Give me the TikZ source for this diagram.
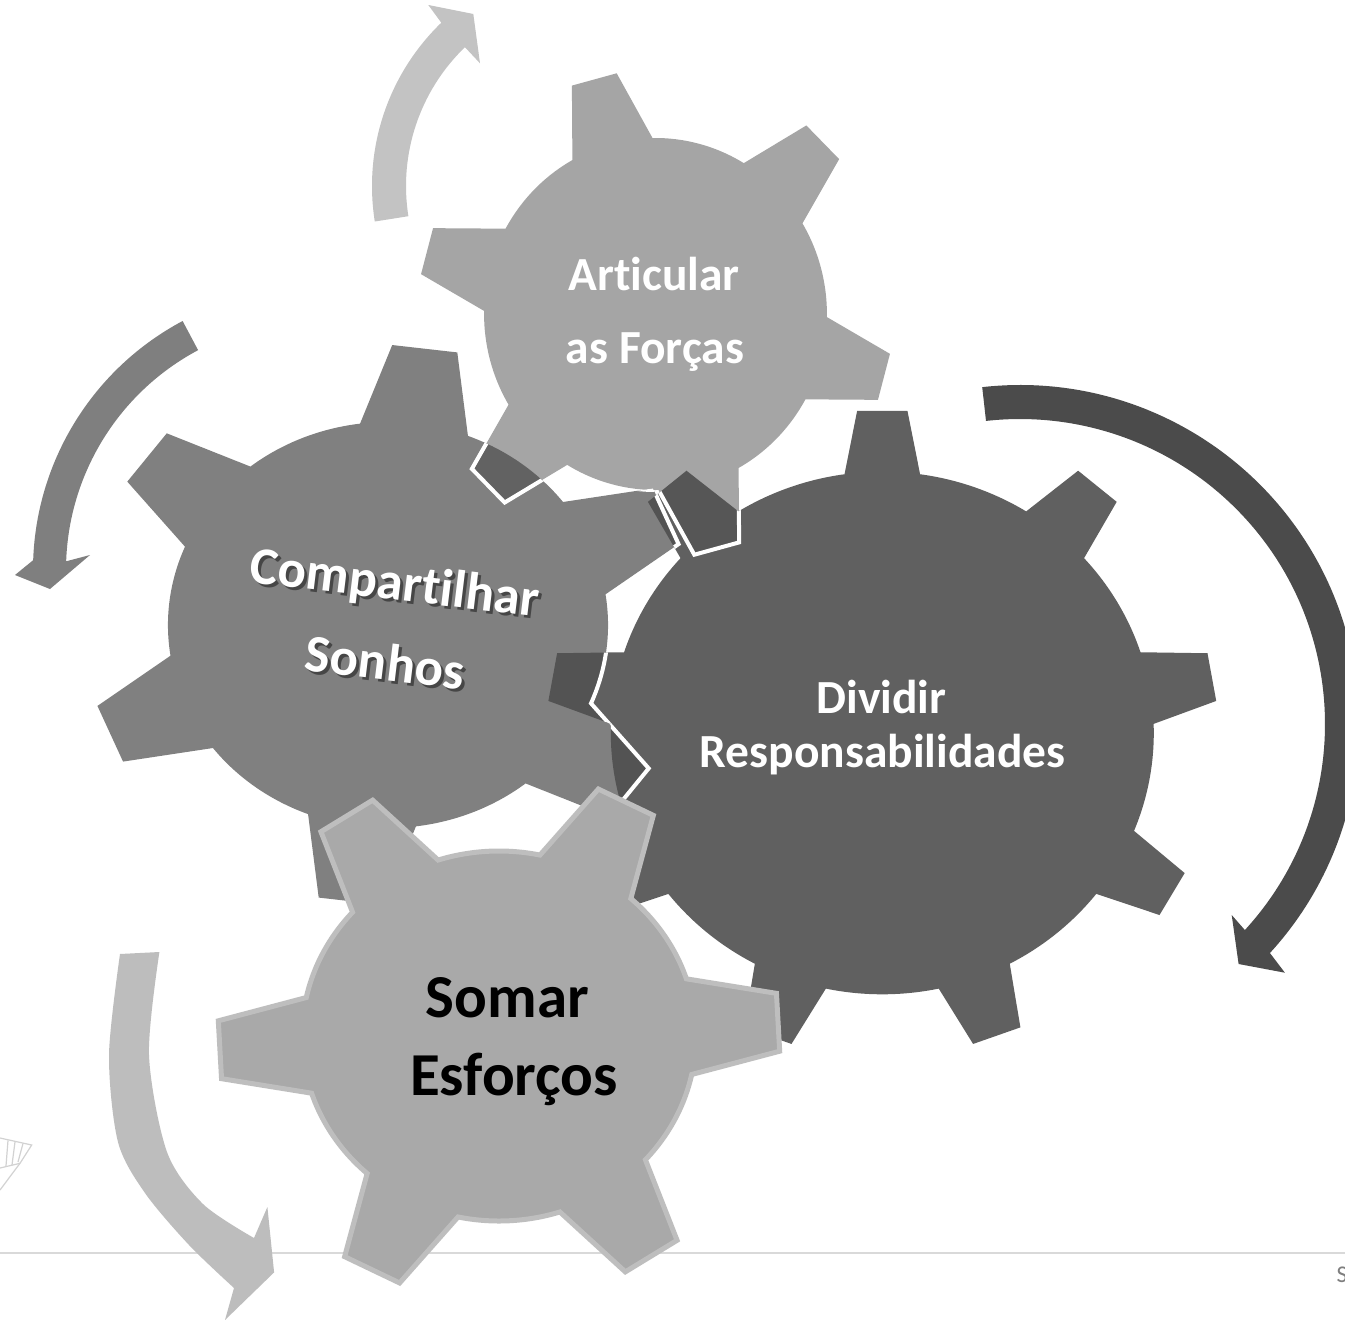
\documentclass[tikz,border=0pt]{standalone}
\usepackage{fontspec}
\setmainfont{Carlito}[Ligatures={NoCommon}]
\definecolor{gbig}{HTML}{606060}
\definecolor{gmed}{HTML}{808080}
\definecolor{gart}{HTML}{A5A5A5}
\definecolor{gsom}{HTML}{A9A9A9}
\definecolor{gsomb}{HTML}{BEBEBE}
\definecolor{ovA}{HTML}{535353}
\definecolor{ovB}{HTML}{626262}
\definecolor{ovC}{HTML}{565656}
\definecolor{arA}{HTML}{C3C3C3}
\definecolor{arB}{HTML}{7F7F7F}
\definecolor{arC}{HTML}{4B4B4B}
\definecolor{arD}{HTML}{BDBDBD}
\definecolor{lineg}{HTML}{D9D9D9}
\definecolor{logog}{HTML}{D2D2D2}
\newcommand\setgear[9]{\def\gqcx{#1}\def\gqcy{#2}\def\gqR{#4}\def\gqT{#5}\def\gqn{#6}\def\gqrot{#7}\def\gqth{#8}\def\gqbh{#9}%
  \pgfmathsetmacro\gqax{#3*#4}\pgfmathsetmacro\gqtx{#3*#5}}
\newcommand\gearpath{({\gqcx+\gqax*cos(\gqrot-\gqbh)},{\gqcy+\gqR*sin(\gqrot-\gqbh)})
  \foreach \k [evaluate=\k as \qa using {\gqrot+(\k-1)*360/\gqn},
               evaluate=\k as \qb using {\gqrot+(\k-1)*360/\gqn+\gqbh},
               evaluate=\k as \qc using {\gqrot+\k*360/\gqn-\gqbh}] in {1,...,\gqn} {
    -- ({\gqcx+\gqtx*cos(\qa-\gqth)},{\gqcy+\gqT*sin(\qa-\gqth)})
    -- ({\gqcx+\gqtx*cos(\qa+\gqth)},{\gqcy+\gqT*sin(\qa+\gqth)})
    -- ({\gqcx+\gqax*cos(\qb)},{\gqcy+\gqR*sin(\qb)})
    arc[start angle=\qb, end angle=\qc, x radius=\gqax, y radius=\gqR]
  } -- cycle}
\newcommand\gearBig{\setgear{882.3}{-733}{1.039}{261.3}{323}{9}{10}{4.3}{8}}
\newcommand\gearMed{\setgear{388}{-625}{1.084}{203}{280}{6}{23}{6.2}{14.3}}
\newcommand\gearArt{\setgear{655.5}{-314}{0.974}{176}{244}{6}{-15}{5.6}{14}}
\newcommand\gearSom{\setgear{499}{-1036}{1.065}{185}{264}{6}{3}{6.3}{15}}
\tikzset{
  txtw/.style={text=white, font=\bfseries\fontsize{47.5}{57}\selectfont, inner sep=0pt, anchor=base},
  txtc/.style={font=\bfseries\fontsize{53}{60}\selectfont, inner sep=0pt, anchor=base, rotate=-6.9},
  txtb/.style={text=black, font=\bfseries\fontsize{61}{70}\selectfont, inner sep=0pt, anchor=base},
  outl/.style={draw=white, line width=4pt, line join=miter},
  logo/.style={draw=logog, line width=1.2pt}
}
\begin{document}
\begin{tikzpicture}[x=1pt,y=1pt]
\useasboundingbox (0,0) rectangle (1345,-1320);
\fill[white] (0,0) rectangle (1345,-1320);
% baseline rule
\draw[lineg, line width=2pt] (0,-1253.3) -- (1345,-1253.3);
% faint logo
\draw[logo] (0,-1138) -- (31.7,-1145) -- (20,-1163.3) -- (0,-1190);
\draw[logo] (0,-1168) -- (20,-1163.3);
\draw[logo] (8,-1140.5) -- (6,-1166);
\draw[logo] (15,-1142) -- (12,-1165);
\draw[logo] (23,-1143.5) -- (18,-1162);
% arrows
\fill[arA] ([shift={(599,-186)}]189:227) arc[start angle=189, end angle=134, radius=227]
  -- (428.3,-5) -- (473.3,-14) -- (480,-63.3)
  -- ([shift={(599,-186)}]134:193) arc[start angle=134, end angle=189, radius=193] -- cycle;
\fill[arB] ([shift={(315,-570)}]118:282) arc[start angle=118, end angle=178, radius=282]
  -- (15,-575) -- (50,-589) -- (90,-555)
  -- ([shift={(315,-570)}]178:249) arc[start angle=178, end angle=118, radius=249] -- cycle;
\fill[arC] ([shift={(1020,-724)}]96.4:339) arc[start angle=96.4, end angle=-42.5, radius=339]
  -- (1284.9,-972.7) -- (1238.6,-964) -- (1231.7,-915)
  -- ([shift={(1020,-724)}]-42.5:305) arc[start angle=-42.5, end angle=96.4, radius=305] -- cycle;
\fill[arD] plot[smooth] coordinates {(120,-954) (109,-1055) (118,-1142) (145,-1193) (189,-1245) (234,-1288)}
  -- (225,-1320) -- (274.1,-1272.4) -- (267.4,-1207)
  -- plot[smooth] coordinates {(254,-1238) (203,-1204) (167,-1152) (149,-1055) (159.4,-952)} -- cycle;
% big gear
\gearBig \fill[gbig] \gearpath;
% medium gear
\gearMed \fill[gmed] \gearpath;
\begin{scope}
  \gearBig \clip \gearpath;
  \gearMed \fill[ovA] \gearpath;
  \draw[outl] \gearpath;
\end{scope}
% articular gear
\gearArt \fill[gart] \gearpath;
\begin{scope}
  \gearMed \clip \gearpath;
  \gearArt \fill[ovB] \gearpath;
\end{scope}
\begin{scope}
  \gearBig \clip \gearpath;
  \gearArt \fill[ovC] \gearpath;
\end{scope}
\begin{scope}
  \gearMed \clip \gearpath;
  \gearArt \draw[outl] \gearpath;
\end{scope}
\begin{scope}
  \gearBig \clip \gearpath;
  \gearArt \draw[outl] \gearpath;
\end{scope}
% somar gear
\gearSom \filldraw[fill=gsom, draw=gsomb, line width=5pt] \gearpath;
% texts
\node[txtw] (art1) at (654,-290) {Articular};
\node[txtw] (art2) at (655,-363) {as Forças};
\node[txtw] (div1) at (881.5,-713.3) {Dividir};
\node[txtw] (div2) at (882.5,-767.3) {Responsabilidades};
\node[txtc, text=black, opacity=0.45] (comp1s) at (396,-602.5) {Compartilhar};
\node[txtc, text=white] (comp1) at (393,-599.5) {Compartilhar};
\node[txtc, text=black, opacity=0.45] (comp2s) at (386,-683) {Sonhos};
\node[txtc, text=white] (comp2) at (383,-680) {Sonhos};
\node[txtb] (som1) at (507.5,-1017.6) {Somar};
\node[txtb] (som2) at (514,-1095) {Esforços};
\node[text=arB, font=\fontsize{24}{28}\selectfont, inner sep=0pt, anchor=base west] (slide) at (1336.5,-1282) {S};
\end{tikzpicture}
\end{document}
